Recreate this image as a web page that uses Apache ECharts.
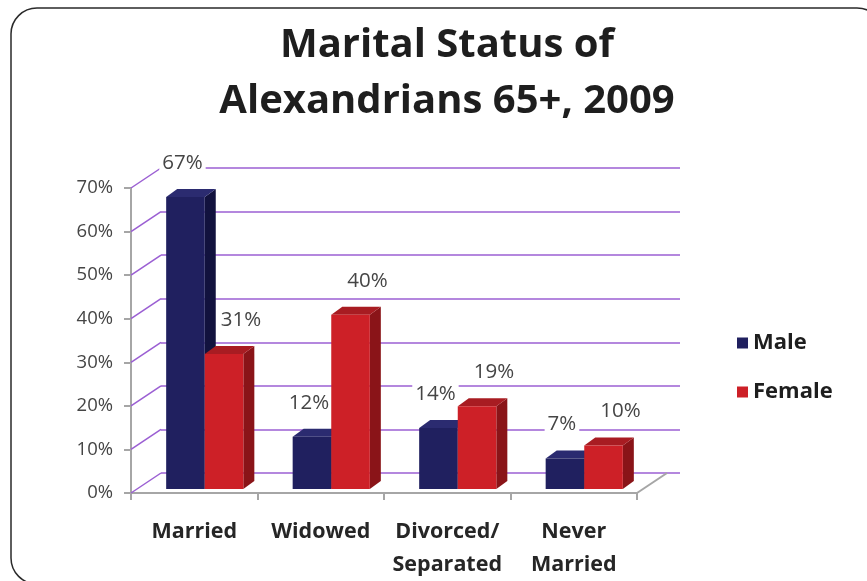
<!DOCTYPE html>
<html><head><meta charset="utf-8">
<script src="https://cdn.jsdelivr.net/npm/echarts@6/dist/echarts.min.js"></script>
<style>html,body{margin:0;padding:0;background:#fff}#c{width:867px;height:581px}</style>
</head><body><div id="c"></div>
<script>
var categories = ['Married', 'Widowed', 'Divorced/\nSeparated', 'Never\nMarried'];
var maleValues = [67, 12, 14, 7];
var femaleValues = [31, 40, 19, 10];
var yTicks = [0, 10, 20, 30, 40, 50, 60, 70];

var FONT = '"Open Sans", Lato, sans-serif';
var DEPTH = [30, -20];     // floor/back-wall depth
var BAR_DEPTH = [11, -8];  // bar depth
var BAR_LIFT = 4;

function barRender(isMale, colors, labelDx) {
  return function (params, api) {
    var idx = api.value(0), v = api.value(1);
    var c = api.coord([idx, v]);
    var c0 = api.coord([idx, 0]);
    var band = api.size([1, 0])[0];
    var w = band * 0.305;
    var pairCenter = c0[0] + 10.5;
    var x = isMale ? pairCenter - w : pairCenter;
    var base = c0[1] - BAR_LIFT, top = c[1] - BAR_LIFT;
    var dx = BAR_DEPTH[0], dy = BAR_DEPTH[1];
    return {
      type: 'group',
      children: [
        { type: 'polygon', shape: { points: [[x + w, top], [x + w + dx, top + dy], [x + w + dx, base + dy], [x + w, base]] }, style: { fill: colors[1] } },
        { type: 'polygon', shape: { points: [[x, top], [x + dx, top + dy], [x + w + dx, top + dy], [x + w, top]] }, style: { fill: colors[2] } },
        { type: 'rect', shape: { x: x, y: top, width: w, height: base - top }, style: { fill: colors[0] } },
        { type: 'text', z2: 100, style: { x: x + w / 2 + 5 + labelDx, y: top - 34, text: v + '%', align: 'center', verticalAlign: 'middle',
            font: '20.5px ' + FONT, fill: '#454545', backgroundColor: '#fff', padding: [1, 3] } }
      ]
    };
  };
}

var chart = echarts.init(document.getElementById('c'), null, { renderer: 'canvas' });
var option = {
  backgroundColor: '#fff',
  animation: false,
  title: {
    text: 'Marital Status of\nAlexandrians 65+, 2009',
    left: 442, top: 13, textAlign: 'center',
    textStyle: { fontFamily: FONT, fontWeight: 'bold', fontSize: 40, lineHeight: 56, color: '#1e1e1e' }
  },
  legend: {
    orient: 'vertical', left: 732, top: 327, itemGap: 27,
    itemWidth: 11, itemHeight: 11, icon: 'rect', itemTextGap: 14,
    textStyle: { fontFamily: FONT, fontWeight: 'bold', fontSize: 22, lineHeight: 22, color: '#1e1e1e' },
    data: ['Male', 'Female']
  },
  graphic: [{
    type: 'rect', z: 100,
    shape: { x: 11, y: 8, width: 872, height: 576, r: 26 },
    style: { fill: 'none', stroke: '#2a2a2a', lineWidth: 1.5 }
  }],
  grid: [
    { left: 131, right: 230, top: 188, bottom: 88 },
    { left: 131 + DEPTH[0], right: 187, top: 188 + DEPTH[1], bottom: 88 - DEPTH[1] }
  ],
  xAxis: [
    { type: 'category', gridIndex: 0, data: categories,
      axisLine: { lineStyle: { color: '#a6a6a6', width: 2 } },
      axisTick: { show: true, length: 7, interval: 0, alignWithLabel: false, lineStyle: { color: '#a6a6a6', width: 2 } },
      axisLabel: { interval: 0, margin: 22, fontFamily: FONT, fontWeight: 'bold', fontSize: 21.5, lineHeight: 33, color: '#262626' },
      splitLine: { show: false } },
    { type: 'category', gridIndex: 1, data: categories, show: false }
  ],
  yAxis: [
    { type: 'value', gridIndex: 0, min: 0, max: 70, interval: 10,
      axisLine: { show: true, lineStyle: { color: '#a6a6a6', width: 2 } },
      axisTick: { show: true, length: 7, lineStyle: { color: '#a6a6a6', width: 2 } },
      axisLabel: { formatter: '{value}%', margin: 18, fontFamily: FONT, fontSize: 18.5, color: '#454545' },
      splitLine: { show: false } },
    { type: 'value', gridIndex: 1, min: 0, max: 70, interval: 10,
      axisLine: { show: false }, axisTick: { show: false }, axisLabel: { show: false },
      splitLine: { show: true, lineStyle: { color: '#9b5fd3', width: 1.5 } } }
  ],
  series: [
    { type: 'custom', name: 'depth', xAxisIndex: 0, yAxisIndex: 0, silent: true, z: 1,
      data: yTicks.map(function (t) { return [0, t]; }),
      renderItem: function (params, api) {
        var cs = params.coordSys;
        var p = api.coord([0, api.value(1)]);
        var x = cs.x;
        var children = [{ type: 'line', shape: { x1: x, y1: p[1], x2: x + DEPTH[0], y2: p[1] + DEPTH[1] }, style: { stroke: '#9b5fd3', lineWidth: 1.5 } }];
        if (params.dataIndex === 0) {
          var xr = cs.x + cs.width;
          children.push({ type: 'line', shape: { x1: xr, y1: p[1], x2: xr + DEPTH[0], y2: p[1] + DEPTH[1] }, style: { stroke: '#a6a6a6', lineWidth: 2 } });
        }
        return { type: 'group', children: children };
      }
    },
    { type: 'custom', name: 'Male', xAxisIndex: 0, yAxisIndex: 0, z: 3,
      itemStyle: { color: '#20205f' },
      data: maleValues.map(function (v, i) { return [i, v]; }),
      renderItem: barRender(true, ['#20205f', '#12123e', '#2b2b70'], -8)
    },
    { type: 'custom', name: 'Female', xAxisIndex: 0, yAxisIndex: 0, z: 4,
      itemStyle: { color: '#cd2027' },
      data: femaleValues.map(function (v, i) { return [i, v]; }),
      renderItem: barRender(false, ['#cd2027', '#8a1418', '#a81c22'], 12)
    }
  ]
};
chart.setOption(option);
</script>
</body></html>
